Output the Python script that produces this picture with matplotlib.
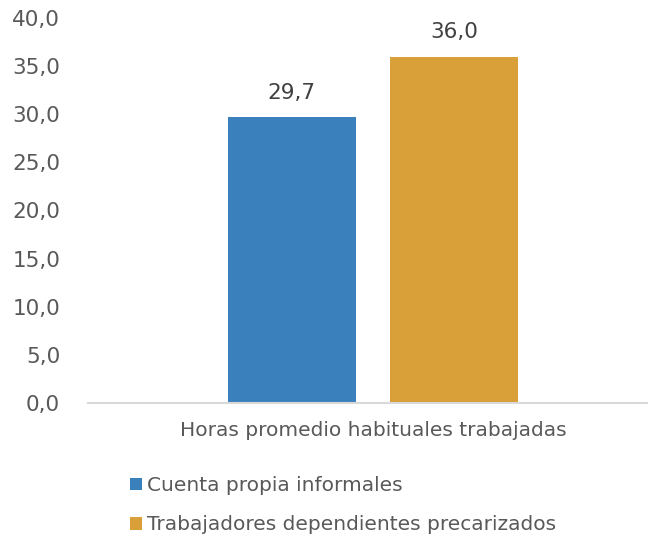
# -*- coding: utf-8 -*-
import matplotlib
matplotlib.use("Agg")
import matplotlib.pyplot as plt
from matplotlib.ticker import FuncFormatter

category = "Horas promedio habituales trabajadas"
series_names = ["Cuenta propia informales", "Trabajadores dependientes precarizados"]
values = [29.7, 36.0]
colors = ["#3a80bd", "#d99f38"]
y_ticks = [0, 5, 10, 15, 20, 25, 30, 35, 40]

text_col = "#595959"
plt.rcParams['font.family'] = ['DejaVu Sans']

fig = plt.figure(figsize=(6.48, 5.4), dpi=100)
ax = fig.add_axes([88/648, 1-403/540, 560/648, 385/540])

width = 0.229
offsets = [-0.145, 0.145]
for i in range(len(values)):
	ax.bar(offsets[i], values[i], width=width, color=colors[i], label=series_names[i])
	ax.text(offsets[i], values[i] + 1.5, ("%.1f" % values[i]).replace(".", ","),
		ha="center", va="bottom", fontsize=15.5, color="#404040")

ax.set_xlim(-0.509, 0.491)
ax.set_ylim(0, 40)
ax.set_yticks(y_ticks)
ax.yaxis.set_major_formatter(FuncFormatter(lambda v, p: ("%.1f" % v).replace(".", ",")))
ax.set_xticks([0.0])
ax.set_xticklabels([category])
ax.tick_params(axis="x", length=0, pad=13, labelsize=14.5, labelcolor=text_col)
ax.tick_params(axis="y", length=0, pad=20, labelsize=15.5, labelcolor=text_col)

for s in ["top", "right", "left"]:
	ax.spines[s].set_visible(False)
ax.spines["bottom"].set_color("#d9d9d9")
ax.spines["bottom"].set_linewidth(1.5)

fig.legend(loc="upper left", bbox_to_anchor=(112/648, 1-458/540), frameon=False,
	fontsize=14.5, handlelength=0.6, handleheight=0.6, handletextpad=0.25,
	labelspacing=1.0, labelcolor=text_col)

fig.savefig("out.png", dpi=100)
